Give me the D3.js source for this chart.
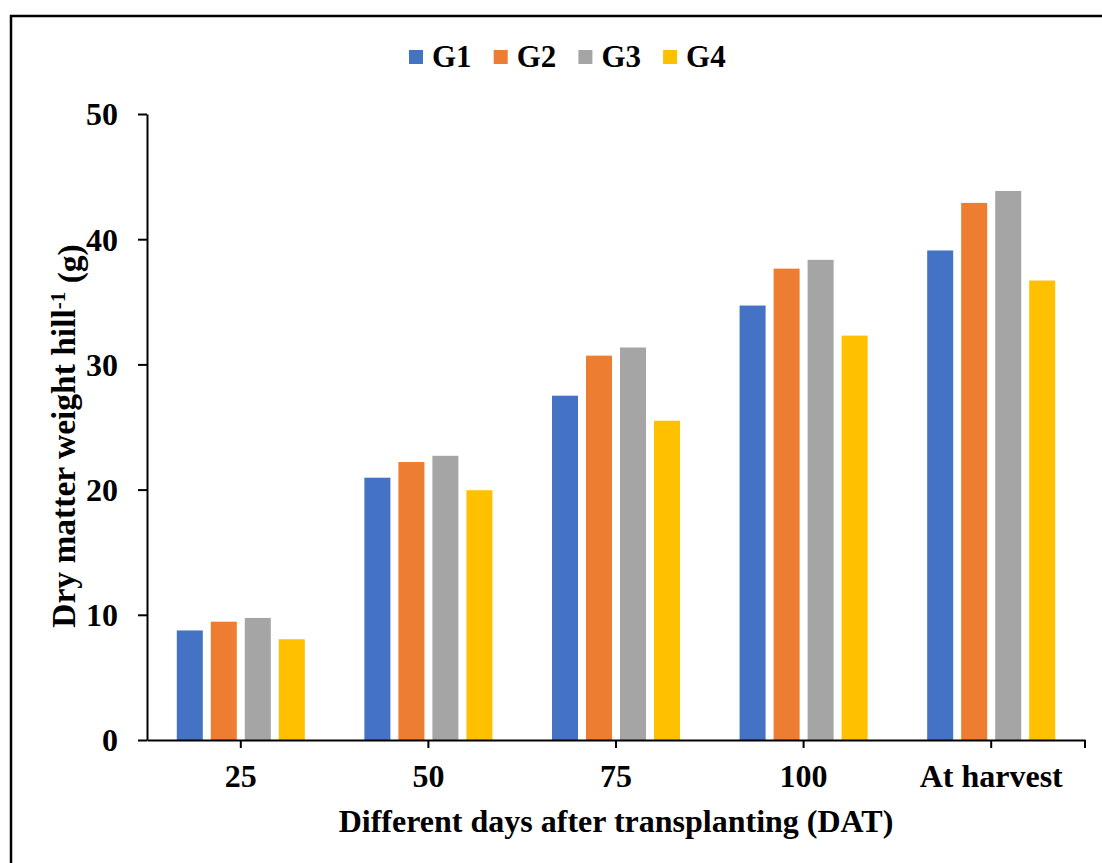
<!DOCTYPE html>
<html>
<head>
<meta charset="utf-8">
<script src="https://cdn.jsdelivr.net/npm/d3@7"></script>
<style>
  body { margin: 0; background: #fff; }
</style>
</head>
<body>
<div id="chart"></div>
<script>
// Data
const categories = ["25", "50", "75", "100", "At harvest"];
const groups = ["G1", "G2", "G3", "G4"];
const g1 = [8.75, 20.95, 27.5, 34.7, 39.1];
const g2 = [9.45, 22.2, 30.7, 37.65, 42.9];
const g3 = [9.75, 22.7, 31.35, 38.35, 43.85];
const g4 = [8.05, 19.95, 25.5, 32.3, 36.7];
const yTicks = [0, 10, 20, 30, 40, 50];
const colors = ["#4472C4", "#ED7D31", "#A5A5A5", "#FFC000"];

const seriesValues = [g1, g2, g3, g4];
const FONT = "'Liberation Serif', 'DejaVu Serif', serif";

// Sizes
const W = 1102, H = 863;
const margin = { top: 114, right: 17, bottom: 123, left: 147 };
const width = W - margin.left - margin.right;
const height = H - margin.top - margin.bottom;

const svg = d3.select("#chart")
  .append("svg")
  .attr("width", W)
  .attr("height", H)
  .style("font-family", FONT)
  .style("font-weight", "bold");

// outer frame (cut off on right and bottom)
svg.append("rect")
  .attr("x", 11).attr("y", 16)
  .attr("width", W + 20).attr("height", H + 20)
  .attr("fill", "none")
  .attr("stroke", "#000")
  .attr("stroke-width", 2.5);

const g = svg.append("g")
  .attr("transform", `translate(${margin.left},${margin.top})`);

// scales
const x0 = d3.scaleBand().domain(categories).range([0, width]).padding(0);
const x1 = d3.scaleBand().domain(groups).range([0, x0.bandwidth()])
  .paddingInner(0.235).paddingOuter(0.876);
const y = d3.scaleLinear().domain([0, 50]).range([height, 0]);
const color = d3.scaleOrdinal().domain(groups).range(colors);

// bars
const rows = [];
categories.forEach((c, i) => {
  groups.forEach((s, j) => rows.push({ cat: c, group: s, value: seriesValues[j][i] }));
});

g.selectAll("rect.bar")
  .data(rows)
  .join("rect")
  .attr("class", "bar")
  .attr("x", d => x0(d.cat) + x1(d.group))
  .attr("y", d => y(d.value))
  .attr("width", x1.bandwidth())
  .attr("height", d => y(0) - y(d.value))
  .attr("fill", d => color(d.group));

// y axis
const yAxis = g.append("g")
  .call(d3.axisLeft(y).tickValues(yTicks).tickSize(9).tickSizeOuter(0).tickPadding(20));

// x axis
const xAxis = g.append("g")
  .attr("transform", `translate(0,${height})`)
  .call(d3.axisBottom(x0).tickSize(8).tickSizeOuter(0).tickPadding(16));
xAxis.append("line")
  .attr("x1", x0.range()[1]).attr("x2", x0.range()[1])
  .attr("y1", 0).attr("y2", 8)
  .attr("stroke", "#000");

g.selectAll(".tick text")
  .attr("fill", "#000")
  .style("font-family", FONT)
  .style("font-weight", "bold")
  .style("font-size", "32px");
yAxis.selectAll("text").attr("dy", "0.34em");
xAxis.selectAll("text").attr("dy", "0.71em");
g.selectAll(".domain, .tick line").attr("stroke", "#000").attr("stroke-width", 2);
xAxis.selectAll("line").attr("stroke-width", 2);

// axis titles
g.append("text")
  .attr("x", width / 2)
  .attr("y", height + 92)
  .attr("text-anchor", "middle")
  .style("font-size", "32px")
  .text("Different days after transplanting (DAT)");

const yt = svg.append("text")
  .attr("transform", `translate(75,${436}) rotate(-90)`)
  .attr("text-anchor", "middle")
  .style("font-size", "33.5px");
yt.append("tspan").text("Dry matter weight hill");
yt.append("tspan").attr("dy", "-0.5em").style("font-size", "21px").text("-1");
yt.append("tspan").attr("dy", "0.5em").text(" (g)");

// legend
const legend = svg.selectAll("g.legend")
  .data(groups)
  .join("g")
  .attr("class", "legend")
  .attr("transform", (d, i) => `translate(${409 + i * 84.7},50)`);

legend.append("rect")
  .attr("width", 14).attr("height", 14)
  .attr("fill", d => color(d));

legend.append("text")
  .attr("x", 23).attr("y", 17)
  .style("font-size", "31px")
  .text(d => d);
</script>
</body>
</html>
